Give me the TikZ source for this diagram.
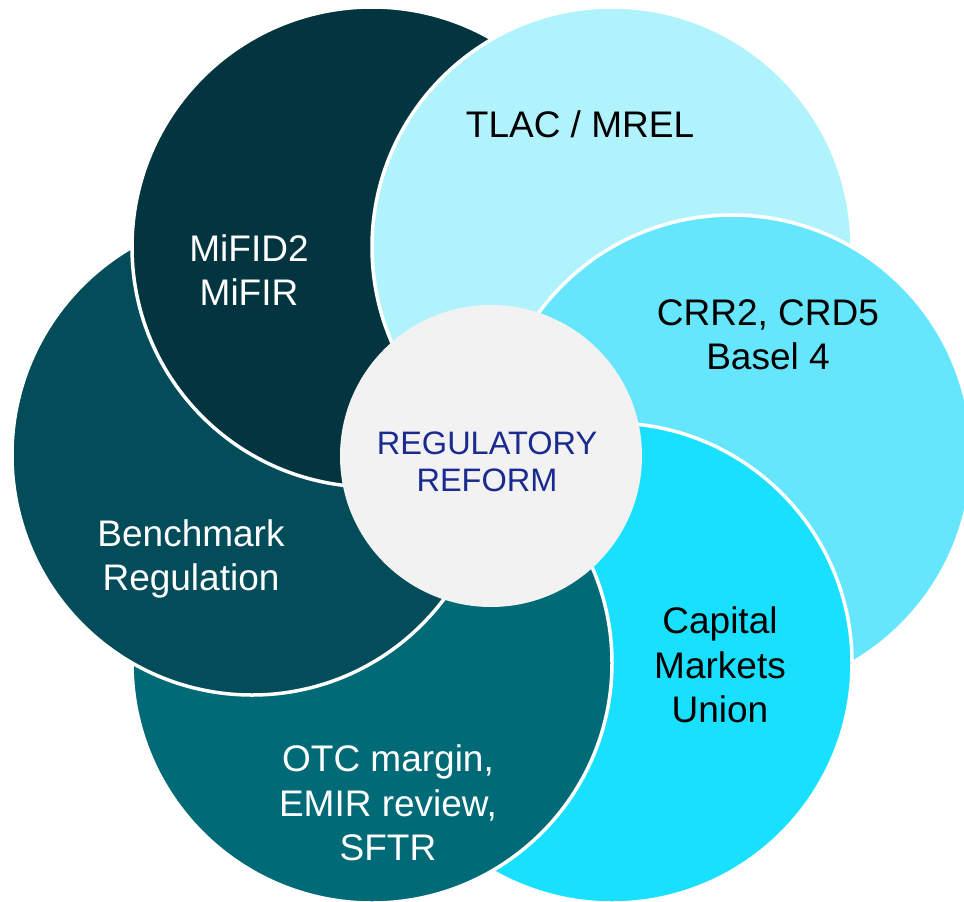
\documentclass[tikz,border=0pt]{standalone}
\usepackage{fontspec}
\setmainfont{Liberation Sans}
\definecolor{ctlac}{HTML}{B1F3FD}
\definecolor{ccrr}{HTML}{66E6FC}
\definecolor{ccmu}{HTML}{19E0FF}
\definecolor{cotc}{HTML}{006A77}
\definecolor{cbench}{HTML}{024D59}
\definecolor{cmifid}{HTML}{02353F}
\definecolor{ccenter}{HTML}{F2F2F2}
\definecolor{ctext}{HTML}{1B2A8E}
\tikzset{
  petal/.style={draw=white, line width=3.5pt},
  lbl/.style={align=center, inner sep=0pt, font=\fontsize{37}{44.5}\selectfont},
  clbl/.style={align=center, inner sep=0pt, text=ctext, font=\fontsize{32.5}{37}\selectfont}
}
\begin{document}
\begin{tikzpicture}[x=1pt,y=-1pt]
\useasboundingbox (0,0) rectangle (964,902);
\coordinate (O) at (492,455);
\coordinate (pcrr) at (732,455);
\coordinate (ptlac) at (612,247);
\coordinate (pmifid) at (372,247);
\coordinate (pbench) at (252,455);
\coordinate (potc) at (372,663);
\coordinate (pcmu) at (612,663);
% petals, bottom to top
\fill[ctlac, petal] (ptlac) circle[radius=240pt];
\fill[ccrr, petal] (pcrr) circle[radius=240pt];
\fill[ccmu, petal] (pcmu) circle[radius=240pt];
\fill[cotc, petal] (potc) circle[radius=240pt];
\fill[cbench, petal] (pbench) circle[radius=240pt];
\fill[cmifid, petal] (pmifid) circle[radius=240pt];
% close the cycle: TLAC over MiFID2 (and CRR2 over TLAC)
\begin{scope}
  \clip (pmifid) circle[radius=246pt];
  \begin{scope}[even odd rule]
    \clip (-10,-10) rectangle (980,920) (pcrr) circle[radius=239.5pt];
    \fill[ctlac, petal] (ptlac) circle[radius=240pt];
  \end{scope}
  \fill[ccrr, petal] (pcrr) circle[radius=240pt];
\end{scope}
% centre
\fill[ccenter] (491,456) circle[radius=151pt];
% labels
\node[lbl, text=black] (tlac) at (580,124) {TLAC / MREL};
\node[lbl, text=white] (mifid) at (249,270) {MiFID2\\MiFIR};
\node[lbl, text=black] (crr) at (768,335) {CRR2, CRD5\\Basel 4};
\node[lbl, text=white] (bench) at (191,559) {Benchmark\\Regulation};
\node[lbl, text=black] (cmu) at (720,665) {Capital\\Markets\\Union};
\node[lbl, text=white] (otc) at (388,803) {OTC margin,\\EMIR review,\\SFTR};
\node[clbl] (center) at (487,462) {REGULATORY\\REFORM};
\end{tikzpicture}
\end{document}
